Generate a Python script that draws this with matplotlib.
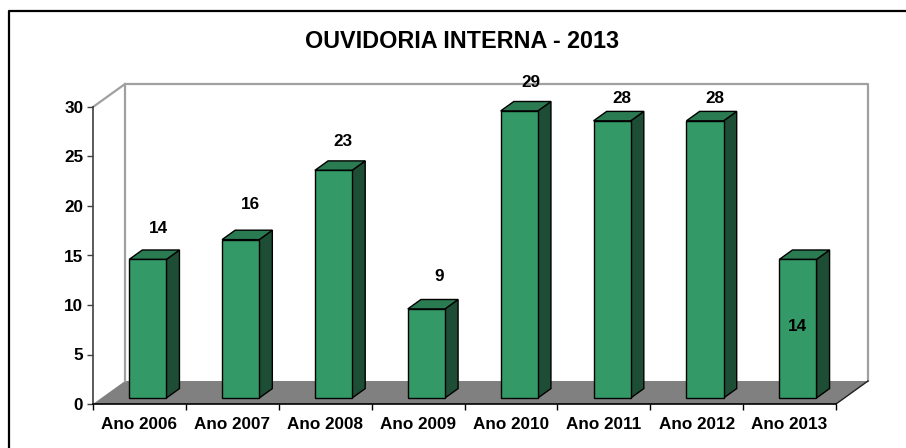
import matplotlib
matplotlib.use("Agg")
import matplotlib.pyplot as plt
from matplotlib.patches import Polygon
from matplotlib.lines import Line2D

# ---- data ----
categories = ["Ano 2006", "Ano 2007", "Ano 2008", "Ano 2009",
              "Ano 2010", "Ano 2011", "Ano 2012", "Ano 2013"]
values = [14, 16, 23, 9, 29, 28, 28, 14]
y_ticks = [0, 5, 10, 15, 20, 25, 30]
title = "OUVIDORIA INTERNA - 2013"

# ---- style / layout ----
W, H = 906, 448
FONT = "Liberation Sans"
C_FRONT = "#339966"
C_SIDE = "#1d4d35"
C_TOP = "#2a7a52"
C_FLOOR = "#808080"
C_WALL = "#a0a0a0"
# label offsets (x in category units, y in value units)
label_dx = [0.11, 0.11, 0.10, 0.14, 0.12, 0.11, 0.11, 0.0]
label_dy = [3.1, 3.5, 2.9, 3.3, 2.9, 2.3, 2.3, -6.8]

fig = plt.figure(figsize=(W / 100, H / 100), dpi=100)
ax_l, ax_r, ax_b, ax_t = 93, 836, 404, 107
ax = fig.add_axes([ax_l / W, (H - ax_b) / H, (ax_r - ax_l) / W, (ax_b - ax_t) / H])
n = len(categories)
ymax = 30
ax.set_xlim(0, n)
ax.set_ylim(0, ymax)

px_x = (ax_r - ax_l) / n
px_y = (ax_b - ax_t) / ymax
DX = 32 / px_x
DY = 23 / px_y
f0, f1 = 0.26, 0.67
bw = 0.40

# floor
ax.add_patch(Polygon([(0, 0), (n, 0), (n + DX, DY), (DX, DY)], closed=True,
                     facecolor=C_FLOOR, edgecolor="none", zorder=1, clip_on=False))
ax.add_line(Line2D([n, n + DX], [0, DY], color="#202020", lw=1.0, zorder=2, clip_on=False))
# walls
ax.add_line(Line2D([DX, DX, n + DX, n + DX], [DY, ymax + DY, ymax + DY, DY],
                   color=C_WALL, lw=1.6, zorder=1, clip_on=False))
ax.add_line(Line2D([0, DX], [ymax, ymax + DY], color=C_WALL, lw=1.6, zorder=1, clip_on=False))

# bars
bd = f1 - f0
for i, v in enumerate(values):
    xl = i + 0.5 - bw / 2 + f0 * DX
    y0 = f0 * DY
    xr = xl + bw
    ddx, ddy = bd * DX, bd * DY
    side = [(xr, y0), (xr + ddx, y0 + ddy), (xr + ddx, y0 + v + ddy), (xr, y0 + v)]
    top = [(xl, y0 + v), (xr, y0 + v), (xr + ddx, y0 + v + ddy), (xl + ddx, y0 + v + ddy)]
    front = [(xl, y0), (xr, y0), (xr, y0 + v), (xl, y0 + v)]
    for pts, col in ((side, C_SIDE), (top, C_TOP), (front, C_FRONT)):
        ax.add_patch(Polygon(pts, closed=True, facecolor=col, edgecolor="#000000",
                             lw=1.0, zorder=3, clip_on=False, joinstyle="miter"))
    ax.text(xl + bw / 2 + label_dx[i], y0 + v + label_dy[i], str(v),
            ha="center", va="center", fontsize=12.3, fontweight="bold",
            family=FONT, zorder=5)

# axes
for s in ("top", "right"):
    ax.spines[s].set_visible(False)
ax.spines["left"].set_color("#404040")
ax.spines["left"].set_linewidth(1.2)
ax.spines["bottom"].set_color("#000000")
ax.spines["bottom"].set_linewidth(1.2)
ax.spines["left"].set_zorder(4)
ax.spines["bottom"].set_zorder(4)
ax.set_yticks(y_ticks)
ax.set_yticklabels([str(t) for t in y_ticks])
ax.tick_params(axis="y", direction="out", length=4, width=1, color="#404040", pad=3,
               labelsize=12.3)
ax.set_xticks(range(n + 1))
ax.set_xticklabels([])
ax.set_xticks([i + 0.5 for i in range(n)], minor=True)
ax.set_xticklabels(categories, minor=True)
ax.tick_params(axis="x", which="major", direction="out", length=4, width=1, color="#000000")
ax.tick_params(axis="x", which="minor", length=0, pad=9, labelsize=12.3)
for lab in ax.get_yticklabels() + ax.get_xticklabels(minor=True):
    lab.set_fontfamily(FONT)
    lab.set_fontweight("bold")
ax.patch.set_visible(False)

# title
fig.text(462 / W, 1 - 42 / H, title, ha="center", va="center", fontsize=16.8,
         fontweight="bold", family=FONT)

# outer frame (left and top edges visible)
fig.add_artist(Line2D([9 / W, 9 / W, 1.0], [0.0, 1 - 11 / H, 1 - 11 / H],
                      transform=fig.transFigure, color="#000000", lw=1.6))

fig.savefig("out.png", dpi=100)
